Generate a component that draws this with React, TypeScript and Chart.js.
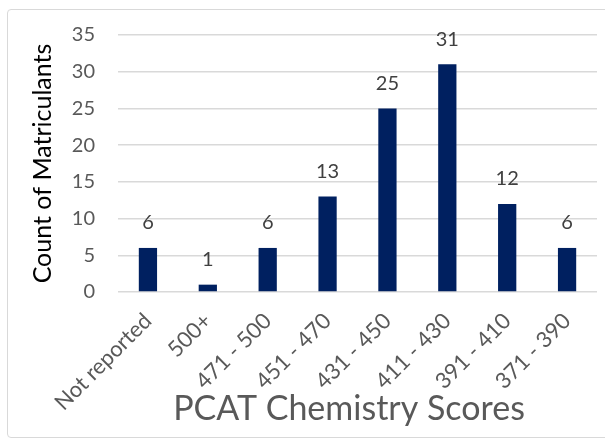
import React, { useEffect, useRef } from "react";
import { Chart, registerables } from "chart.js";

Chart.register(...registerables);

const categories = [
  "Not reported",
  "500+",
  "471 - 500",
  "451 - 470",
  "431 - 450",
  "411 - 430",
  "391 - 410",
  "371 - 390",
];
const counts = [6, 1, 6, 13, 25, 31, 12, 6];
const yTicks = [0, 5, 10, 15, 20, 25, 30, 35];
const yTitle = "Count of Matriculants";
const xTitle = "PCAT Chemistry Scores";

const FONT = "Lato, 'Liberation Sans', sans-serif";

const dataLabels = {
  id: "dataLabels",
  afterDatasetsDraw(chart: any) {
    const ctx = chart.ctx;
    const meta = chart.getDatasetMeta(0);
    const ds = chart.data.datasets[0];
    ctx.save();
    ctx.font = `20px ${FONT}`;
    ctx.fillStyle = "#404040";
    ctx.textAlign = "center";
    ctx.textBaseline = "middle";
    meta.data.forEach((bar: any, i: number) => {
      ctx.fillText(String(ds.data[i]), bar.x, bar.y - 25);
    });
    ctx.restore();
  },
};

const xAxisTitle = {
  id: "xAxisTitle",
  afterDraw(chart: any) {
    const ctx = chart.ctx;
    ctx.save();
    ctx.font = `34px ${FONT}`;
    ctx.fillStyle = "#595959";
    ctx.textAlign = "center";
    ctx.textBaseline = "middle";
    ctx.fillText(xTitle, chart.chartArea.left + 231, chart.height - 29);
    ctx.restore();
  },
};

export default function App() {
  const ref = useRef<HTMLCanvasElement | null>(null);

  useEffect(() => {
    if (!ref.current) return;
    const chart = new Chart(ref.current, {
      type: "bar",
      data: {
        labels: categories,
        datasets: [
          {
            data: counts,
            backgroundColor: "#002060",
            barPercentage: 0.305,
            categoryPercentage: 1,
          },
        ],
      },
      options: {
        animation: false,
        responsive: false,
        maintainAspectRatio: false,
        layout: { padding: { left: 0, right: 8, top: 34, bottom: 0 } },
        plugins: {
          legend: { display: false },
          tooltip: { enabled: false },
        },
        scales: {
          x: {
            grid: { display: false, drawTicks: false },
            border: { display: false },
            ticks: {
              color: "#595959",
              font: { family: FONT, size: 22 },
              minRotation: 45,
              maxRotation: 45,
              autoSkip: false,
              padding: 16,
            },
            title: { display: false },
            afterFit: (scale: any) => {
              scale.height = 146;
            },
          },
          y: {
            min: 0,
            max: 35,
            afterBuildTicks: (scale: any) => {
              scale.ticks = yTicks.map((v) => ({ value: v }));
            },
            grid: { color: "#d9d9d9", lineWidth: 1.5, drawTicks: false },
            border: { display: false },
            ticks: {
              color: "#595959",
              font: { family: FONT, size: 20 },
              padding: 23,
            },
            title: {
              display: true,
              text: yTitle,
              color: "#000000",
              font: { family: FONT, size: 25 },
              padding: { top: 28, bottom: 0 },
            },
            afterFit: (scale: any) => {
              scale.width = 118;
            },
          },
        },
      },
      plugins: [dataLabels, xAxisTitle],
    });
    return () => chart.destroy();
  }, []);

  return (
    <div
      style={{
        position: "absolute",
        left: 0,
        top: 0,
        width: 605,
        height: 438,
        overflow: "hidden",
        background: "#ffffff",
      }}
    >
      <div
        style={{
          position: "absolute",
          left: 7,
          top: 9,
          width: 620,
          height: 427,
          border: "1px solid #d9d9d9",
          borderRadius: 4,
        }}
      />
      <canvas
        ref={ref}
        width={605}
        height={438}
        style={{ position: "absolute", left: 0, top: 0, width: 605, height: 438 }}
      />
    </div>
  );
}
